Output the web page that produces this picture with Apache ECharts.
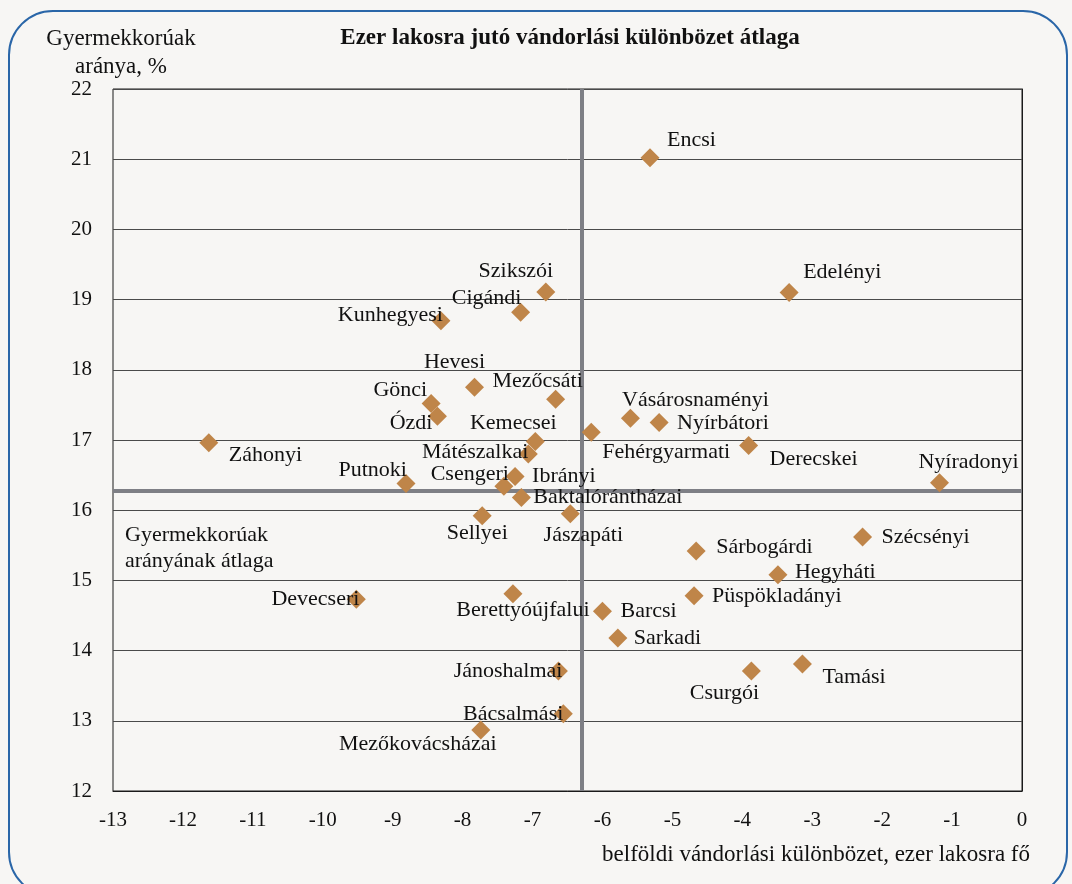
<!DOCTYPE html>
<html>
<head>
<meta charset="utf-8">
<script src="https://cdn.jsdelivr.net/npm/echarts@6/dist/echarts.min.js"></script>
<style>
html,body{margin:0;padding:0;background:#f7f6f4;}
#chart{width:1072px;height:884px;}
</style>
</head>
<body>
<div id="chart"></div>
<script>
// ---- data ----
const names = ['Encsi','Edelényi','Szikszói','Cigándi','Kunhegyesi','Hevesi','Mezőcsáti','Gönci','Ózdi','Vásárosnaményi','Nyírbátori','Kemecsei','Fehérgyarmati','Derecskei','Záhonyi','Mátészalkai','Ibrányi','Csengeri','Putnoki','Nyíradonyi','Baktalórántházai','Sellyei','Jászapáti','Szécsényi','Sárbogárdi','Hegyháti','Devecseri','Berettyóújfalui','Püspökladányi','Barcsi','Sarkadi','Jánoshalmai','Csurgói','Tamási','Bácsalmási','Mezőkovácsházai'];
const migration = [-5.32,-3.33,-6.81,-7.17,-8.31,-7.83,-6.67,-8.45,-8.36,-5.60,-5.19,-6.96,-6.16,-3.91,-11.63,-7.06,-7.25,-7.41,-8.81,-1.18,-7.16,-7.72,-6.46,-2.28,-4.66,-3.49,-9.52,-7.28,-4.69,-6.00,-5.78,-6.63,-3.87,-3.14,-6.56,-7.74];
const childShare = [21.02,19.10,19.11,18.82,18.70,17.75,17.58,17.52,17.34,17.31,17.25,16.98,17.11,16.92,16.96,16.80,16.48,16.34,16.38,16.39,16.18,15.92,15.95,15.62,15.42,15.08,14.73,14.81,14.78,14.56,14.18,13.71,13.71,13.81,13.10,12.87];
const migrationAvg = -6.30;
const childShareAvg = 16.28;
const xTicks = [-13,-12,-11,-10,-9,-8,-7,-6,-5,-4,-3,-2,-1,0];
const yTicks = [12,13,14,15,16,17,18,19,20,21,22];

// ---- label placement (align, dx, dy relative to marker centre) ----
const labelLayout = {
  'Encsi':['left',17,-18], 'Edelényi':['left',14,-20], 'Szikszói':['center',-30,-21],
  'Cigándi':['center',-34,-14], 'Kunhegyesi':['right',2,-5], 'Hevesi':['center',-20,-25],
  'Mezőcsáti':['center',-18,-18], 'Gönci':['right',-4,-13], 'Ózdi':['right',-5,7],
  'Vásárosnaményi':['center',65,-18], 'Nyírbátori':['left',18,1], 'Kemecsei':['center',-22,-18],
  'Fehérgyarmati':['center',75,20], 'Derecskei':['left',21,14], 'Záhonyi':['left',20,12],
  'Mátészalkai':['right',0,-2], 'Ibrányi':['left',17,0], 'Csengeri':['right',5,-12],
  'Putnoki':['right',1,-13], 'Nyíradonyi':['center',29,-21], 'Baktalórántházai':['left',12,0],
  'Sellyei':['center',-5,17], 'Jászapáti':['center',13,22], 'Szécsényi':['left',19,0],
  'Sárbogárdi':['left',20,-4], 'Hegyháti':['left',17,-3], 'Devecseri':['right',3,0],
  'Berettyóújfalui':['center',10,16], 'Püspökladányi':['left',18,0], 'Barcsi':['left',18,0],
  'Sarkadi':['left',16,0], 'Jánoshalmai':['right',4,0], 'Csurgói':['center',-27,22],
  'Tamási':['left',20,13], 'Bácsalmási':['right',0,0], 'Mezőkovácsházai':['center',-63,14]
};

const FONT = '"Liberation Serif", "Times New Roman", serif';
const TXT = '#111111';

const points = names.map((n, i) => {
  const l = labelLayout[n];
  return {
    name: n,
    value: [migration[i], childShare[i]],
    label: { position: 'inside', align: l[0], verticalAlign: 'middle', offset: [l[1], l[2]] }
  };
});

const chart = echarts.init(document.getElementById('chart'));
chart.setOption({
  backgroundColor: '#f7f6f4',
  animation: false,
  grid: { left: 113, right: 50, top: 89, bottom: 93, show: true, borderColor: '#1a1a1a', borderWidth: 1, backgroundColor: 'transparent' },
  xAxis: {
    type: 'value', min: xTicks[0], max: xTicks[xTicks.length-1], interval: 1,
    axisLine: { show: true, lineStyle: { color: '#1a1a1a', width: 1 } },
    axisTick: { show: false },
    splitLine: { show: false },
    axisLabel: { margin: 19, color: TXT, fontFamily: FONT, fontSize: 21 }
  },
  yAxis: {
    type: 'value', min: yTicks[0], max: yTicks[yTicks.length-1], interval: 1,
    axisLine: { show: true, lineStyle: { color: '#1a1a1a', width: 1 } },
    axisTick: { show: false },
    splitLine: { show: true, lineStyle: { color: '#4a4a4a', width: 1 } },
    axisLabel: { margin: 21, color: TXT, fontFamily: FONT, fontSize: 21 }
  },
  graphic: [
    { type: 'rect', left: 8, top: 10, z: -1, silent: true,
      shape: { width: 1058, height: 885, r: 44 },
      style: { fill: 'transparent', stroke: '#2a66a8', lineWidth: 2 } },
    { type: 'text', x: 570, y: 38,
      style: { text: 'Ezer lakosra jutó vándorlási különbözet átlaga', font: 'bold 23px ' + FONT, fill: TXT, align: 'center', verticalAlign: 'middle' } },
    { type: 'text', x: 121, y: 53,
      style: { text: 'Gyermekkorúak\naránya, %', font: '23px ' + FONT, fill: TXT, align: 'center', verticalAlign: 'middle', lineHeight: 28 } },
    { type: 'text', x: 125, y: 548,
      style: { text: 'Gyermekkorúak\narányának átlaga', font: '22px ' + FONT, fill: TXT, lineHeight: 26, verticalAlign: 'middle' } },
    { type: 'text', x: 1030, y: 855,
      style: { text: 'belföldi vándorlási különbözet, ezer lakosra fő', font: '23px ' + FONT, fill: TXT, align: 'right', verticalAlign: 'middle' } }
  ],
  series: [
    {
      type: 'scatter', data: [], z: 1,
      markLine: {
        z: 1,
        silent: true, symbol: 'none', label: { show: false },
        lineStyle: { color: '#7e7f85', width: 4, type: 'solid', opacity: 1 },
        data: [ { xAxis: migrationAvg }, { yAxis: childShareAvg } ]
      }
    },
    {
      type: 'scatter', z: 3,
      symbol: 'diamond', symbolSize: 19,
      itemStyle: { color: '#bf8549', opacity: 1 },
      label: { show: true, formatter: p => p.name, color: TXT, opacity: 1, fontFamily: FONT, fontSize: 22 },
      emphasis: { disabled: true },
      data: points
    }
  ]
});
</script>
</body>
</html>
